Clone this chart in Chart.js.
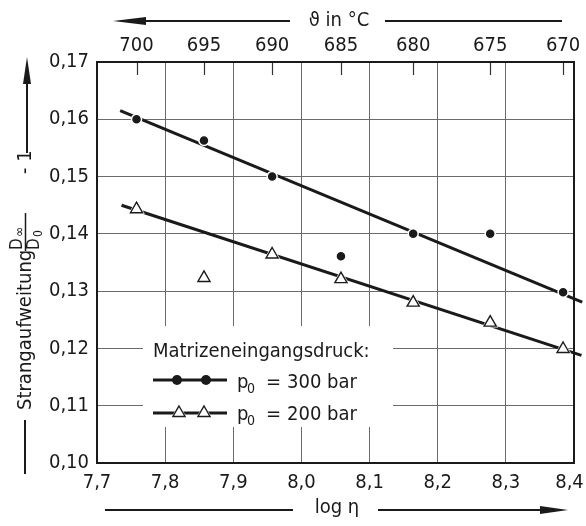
<!DOCTYPE html>
<html><head><meta charset="utf-8">
<script src="https://cdn.jsdelivr.net/npm/chart.js@4.4.1/dist/chart.umd.min.js"></script>
<style>html,body{margin:0;padding:0;background:#fff;}#wrap{width:586px;height:526px;position:relative;}</style>
</head><body><div id="wrap"><canvas id="c" width="586" height="526"></canvas></div>
<script>
// ---- data ----
const logEta      = [7.758, 7.857, 7.957, 8.058, 8.164, 8.277, 8.384];
const temperature = [700, 695, 690, 685, 680, 675, 670];
const swell300    = [0.1600, 0.1563, 0.1500, 0.1361, 0.1400, 0.1400, 0.1298];
const swell200    = [0.1443, 0.1323, 0.1364, 0.1321, 0.1280, 0.1245, 0.1199];
const fit300X = [7.734, 8.412];
const fit300Y = [0.1615, 0.1281];
const fit200X = [7.736, 8.411];
const fit200Y = [0.1450, 0.1188];
const xRange = [7.7, 8.4];
const yRange = [0.10, 0.17];
const legendTitle = 'Matrizeneingangsdruck:';
const legendValues = ['300 bar', '200 bar'];
const xTitle = 'log η';
const topTitle = 'ϑ in °C';
const yTitle = 'Strangaufweitung';

const FONT = '"Liberation Sans Narrow", "DejaVu Sans Condensed", "Liberation Sans", sans-serif';
const INK = '#1a1a1a';
const pts = (xs, ys) => xs.map((x, i) => ({x, y: ys[i]}));

const chrome = {
  id: 'chrome',
  beforeDatasetsDraw(chart) {
    const ctx = chart.ctx, a = chart.chartArea;
    const x2 = chart.scales.x2;
    ctx.save();
    ctx.strokeStyle = '#333'; ctx.lineWidth = 1.2;
    logEta.forEach(v => {
      const px = Math.round(x2.getPixelForValue(v)) + 0.5;
      ctx.beginPath(); ctx.moveTo(px, a.top); ctx.lineTo(px, a.top + 13); ctx.stroke();
    });
    ctx.fillStyle = '#fff';
    ctx.fillRect(143, 326, 250, 101);
    ctx.restore();
  },
  afterDatasetsDraw(chart) {
    const ctx = chart.ctx, a = chart.chartArea;
    ctx.save();
    ctx.strokeStyle = INK; ctx.lineWidth = 2;
    ctx.strokeRect(a.left, a.top, a.right - a.left, a.bottom - a.top);
    ctx.fillStyle = INK;
    ctx.font = '20px ' + FONT;
    ctx.textBaseline = 'alphabetic'; ctx.textAlign = 'left';
    ctx.fillText(legendTitle, 153, 357);
    const rows = [{y: 380, base: 388, style: 'circle', mk: [177, 206]},
                  {y: 413, base: 420, style: 'triangle', mk: [179, 204]}];
    rows.forEach((r, i) => {
      ctx.strokeStyle = INK; ctx.lineWidth = 3;
      ctx.beginPath(); ctx.moveTo(153, r.y); ctx.lineTo(227, r.y); ctx.stroke();
      r.mk.forEach(mx => {
        if (r.style === 'circle') {
          ctx.fillStyle = INK; ctx.beginPath(); ctx.arc(mx, r.y, 5, 0, Math.PI * 2); ctx.fill();
        } else {
          const tri = (rad) => {
            ctx.beginPath();
            ctx.moveTo(mx, r.y - rad);
            ctx.lineTo(mx + rad * 0.866, r.y + rad / 2);
            ctx.lineTo(mx - rad * 0.866, r.y + rad / 2);
            ctx.closePath();
          };
          ctx.fillStyle = '#fff'; tri(9); ctx.fill();
          tri(7); ctx.fill(); ctx.strokeStyle = INK; ctx.lineWidth = 1.4; ctx.stroke();
        }
      });
      ctx.fillStyle = INK;
      ctx.font = '20px ' + FONT;
      ctx.fillText('p', 237, r.base);
      ctx.font = '14px ' + FONT;
      ctx.fillText('0', 247, r.base + 5);
      ctx.font = '20px ' + FONT;
      ctx.fillText('=', 266, r.base);
      ctx.fillText(legendValues[i], 287, r.base);
    });
    ctx.restore();
  },
  afterDraw(chart) {
    const ctx = chart.ctx;
    ctx.save();
    ctx.strokeStyle = INK; ctx.fillStyle = INK; ctx.lineWidth = 2;
    const line = (x1, y1, x2, y2) => { ctx.beginPath(); ctx.moveTo(x1, y1); ctx.lineTo(x2, y2); ctx.stroke(); };
    const head = (tx, ty, bx, by, hw) => {
      const dx = bx - tx, dy = by - ty, L = Math.hypot(dx, dy);
      const nx = -dy / L * hw, ny = dx / L * hw;
      ctx.beginPath(); ctx.moveTo(tx, ty); ctx.lineTo(bx + nx, by + ny); ctx.lineTo(bx - nx, by - ny); ctx.closePath(); ctx.fill();
    };
    ctx.font = '20px ' + FONT;
    ctx.textBaseline = 'middle'; ctx.textAlign = 'center';
    head(113, 21, 146, 21, 4);
    line(145, 21, 290, 21);
    ctx.fillText(topTitle, 339, 21);
    line(385, 21, 562, 21);
    line(105, 510, 293, 510);
    ctx.fillText(xTitle, 337, 508);
    line(378, 510, 542, 510);
    head(568, 510, 540, 510, 4);
    // y title (rotated)
    line(25, 474, 25, 420);
    line(27, 153, 27, 82);
    head(27, 57, 27, 84, 4);
    ctx.rotate(-Math.PI / 2);
    ctx.textAlign = 'left'; ctx.textBaseline = 'alphabetic';
    ctx.font = '20px ' + FONT;
    ctx.fillText(yTitle, -410, 31);
    ctx.fillText('- 1', -174, 31);
    ctx.font = '17px ' + FONT;
    ctx.fillText('D', -250, 22);
    ctx.fillText('D', -250, 39);
    ctx.font = '14px ' + FONT;
    ctx.fillText('∞', -237, 24);
    ctx.font = '12px ' + FONT;
    ctx.fillText('0', -237, 42);
    ctx.lineWidth = 1.5;
    line(-251, 25.5, -213, 25.5);
    ctx.restore();
  }
};

new Chart(document.getElementById('c'), {
  data: {
    datasets: [
      {type: 'line', data: pts(fit300X, fit300Y), borderColor: INK, borderWidth: 3, pointRadius: 0, clip: false, order: 5},
      {type: 'line', data: pts(fit200X, fit200Y), borderColor: INK, borderWidth: 3, pointRadius: 0, clip: false, order: 5},
      {type: 'line', data: pts(logEta, swell200), showLine: false, pointStyle: 'triangle', pointRadius: 9.5,
       pointBackgroundColor: '#fff', pointBorderColor: '#fff', pointBorderWidth: 0, order: 3},
      {type: 'line', data: pts(logEta, swell300), showLine: false, pointStyle: 'circle', pointRadius: 5,
       pointBackgroundColor: INK, pointBorderColor: '#fff', pointBorderWidth: 1.5, order: 1},
      {type: 'line', data: pts(logEta, swell200), showLine: false, pointStyle: 'triangle', pointRadius: 7,
       pointBackgroundColor: '#fff', pointBorderColor: INK, pointBorderWidth: 1.4, order: 1}
    ]
  },
  options: {
    responsive: false, devicePixelRatio: 1, animation: false,
    layout: {padding: {left: 0, right: 0, top: 0, bottom: 0}},
    plugins: {legend: {display: false}, tooltip: {enabled: false}},
    scales: {
      x: {
        type: 'linear', position: 'bottom', min: xRange[0], max: xRange[1],
        afterFit: s => { s.height = 63; s.paddingLeft = 0; s.paddingRight = 12; },
        ticks: {stepSize: 0.1, color: INK, padding: 8, font: {family: FONT, size: 20},
                callback: (v, i, arr) => v.toFixed(1).replace('.', ',') + (i === arr.length - 1 ? '\u2002' : '')},
        grid: {color: '#6a6a6a', lineWidth: 1, drawTicks: false},
        border: {display: false}
      },
      x2: {
        type: 'linear', position: 'top', min: xRange[0], max: xRange[1],
        afterFit: s => { s.height = 62; s.paddingLeft = 0; s.paddingRight = 0; },
        afterBuildTicks: s => { s.ticks = logEta.map(v => ({value: v})); },
        ticks: {autoSkip: false, color: INK, padding: 4, font: {family: FONT, size: 20},
                callback: (v, i) => String(temperature[i])},
        grid: {display: false, drawTicks: false},
        border: {display: false}
      },
      y: {
        type: 'linear', min: yRange[0], max: yRange[1],
        afterFit: s => { s.width = 97; s.paddingTop = 0; s.paddingBottom = 0; },
        ticks: {stepSize: 0.01, color: INK, padding: 8, font: {family: FONT, size: 20},
                callback: v => v.toFixed(2).replace('.', ',')},
        grid: {color: '#6a6a6a', lineWidth: 1, drawTicks: false},
        border: {display: false}
      }
    }
  },
  plugins: [chrome]
});
</script></body></html>
